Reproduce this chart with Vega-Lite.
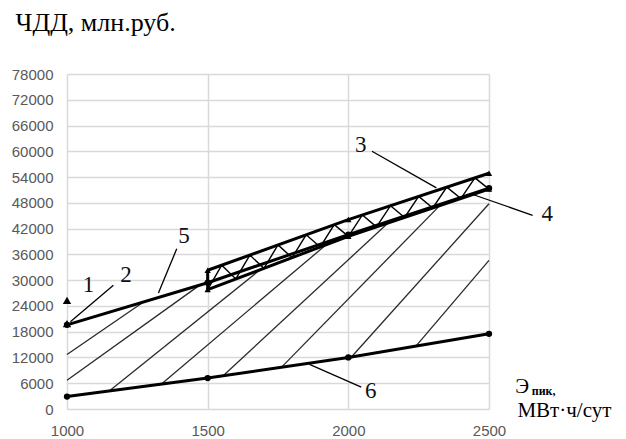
{
  "$schema": "https://vega.github.io/schema/vega-lite/v6.json",
  "width": 422,
  "height": 335,
  "autosize": "none",
  "padding": {"left": 67, "top": 74, "right": 137, "bottom": 30},
  "background": "white",
  "config": {"view": {"stroke": null}},
  "datasets": {
    "series": [
      {"s": "6", "x": 1000, "y": 2900}, {"s": "6", "x": 1500, "y": 7200}, {"s": "6", "x": 2000, "y": 12000}, {"s": "6", "x": 2500, "y": 17500},
      {"s": "5", "x": 1000, "y": 19600}, {"s": "5", "x": 1500, "y": 29400}, {"s": "5", "x": 2000, "y": 40600}, {"s": "5", "x": 2500, "y": 51400},
      {"s": "3", "x": 1500, "y": 32300}, {"s": "3", "x": 2000, "y": 44100}, {"s": "3", "x": 2500, "y": 54900},
      {"s": "4", "x": 1500, "y": 27800}, {"s": "4", "x": 2000, "y": 40200}, {"s": "4", "x": 2500, "y": 51200}
    ],
    "singles": [
      {"p": "1", "x": 1000, "y": 25300},
      {"p": "2", "x": 1000, "y": 19900}
    ],
    "hatch": [
      {"x": 1000, "y": 12700, "x2": 1272, "y2": 24900},
      {"x": 1000, "y": 6700, "x2": 1473, "y2": 28900},
      {"x": 1148, "y": 4100, "x2": 1686, "y2": 32400},
      {"x": 1337, "y": 5900, "x2": 1922, "y2": 38300},
      {"x": 1556, "y": 7800, "x2": 2141, "y2": 43300},
      {"x": 1762, "y": 9700, "x2": 2324, "y2": 47300},
      {"x": 2011, "y": 12100, "x2": 2500, "y2": 47800},
      {"x": 2241, "y": 14700, "x2": 2500, "y2": 34600}
    ],
    "lattice": [
      {"x": 1500, "y": 27800}, {"x": 1550, "y": 33480}, {"x": 1600, "y": 30280}, {"x": 1650, "y": 35840},
      {"x": 1700, "y": 32760}, {"x": 1750, "y": 38200}, {"x": 1800, "y": 35240}, {"x": 1850, "y": 40560},
      {"x": 1900, "y": 37720}, {"x": 1950, "y": 42920}, {"x": 2000, "y": 40200}, {"x": 2050, "y": 45180},
      {"x": 2100, "y": 42400}, {"x": 2150, "y": 47340}, {"x": 2200, "y": 44600}, {"x": 2250, "y": 49500},
      {"x": 2300, "y": 46800}, {"x": 2350, "y": 51660}, {"x": 2400, "y": 49000}, {"x": 2450, "y": 53820},
      {"x": 2500, "y": 51200}
    ],
    "bandend": [
      {"x": 1500, "y": 27800, "y2": 32300}
    ],
    "leaders": [
      {"x": 1165, "y": 28800, "x2": 1012, "y2": 20300},
      {"x": 1390, "y": 37300, "x2": 1325, "y2": 27000},
      {"x": 2084, "y": 60000, "x2": 2313, "y2": 51500},
      {"x": 2440, "y": 50000, "x2": 2655, "y2": 45100},
      {"x": 1862, "y": 10400, "x2": 2046, "y2": 5100}
    ],
    "labels": [
      {"t": "1", "x": 1076, "y": 28800},
      {"t": "2", "x": 1210, "y": 31100},
      {"t": "5", "x": 1416, "y": 40200},
      {"t": "3", "x": 2044, "y": 61400},
      {"t": "4", "x": 2707, "y": 45300},
      {"t": "6", "x": 2080, "y": 4100}
    ],
    "xtitle": [
      {"t": "Э", "x": 2593, "y": 3650},
      {"t": "МВт·ч/сут", "x": 2601, "y": -1800}
    ],
    "xsub": [
      {"t": "пик,", "x": 2652, "y": 3250}
    ]
  },
  "layer": [
    {
      "data": {"name": "hatch"},
      "mark": {"type": "rule", "color": "#2a2a2a", "strokeWidth": 1.3},
      "encoding": {
        "x": {
          "field": "x", "type": "quantitative",
          "scale": {"domain": [1000, 2500], "nice": false, "zero": false},
          "axis": {
            "values": [1000, 1500, 2000, 2500], "tickCount": 4, "title": null, "grid": true,
            "gridColor": "#d9d9d9", "gridWidth": 1.5, "domain": false, "ticks": false,
            "labelPadding": 14, "labelFont": "Liberation Sans", "labelFontSize": 15,
            "labelColor": "#595959", "labelFlush": false, "labelOverlap": false, "format": "d"
          }
        },
        "y": {
          "field": "y", "type": "quantitative",
          "scale": {"domain": [0, 78000], "nice": false, "zero": false},
          "axis": {
            "values": [0, 6000, 12000, 18000, 24000, 30000, 36000, 42000, 48000, 54000, 60000, 66000, 72000, 78000],
            "tickCount": 14,
            "title": "ЧДД, млн.руб.", "titleAngle": 0, "titleAlign": "left", "titleBaseline": "alphabetic",
            "titleX": -52, "titleY": -44, "titleFont": "Liberation Serif", "titleFontSize": 26,
            "titleFontWeight": "normal", "titleColor": "#000000",
            "grid": true, "gridColor": "#d9d9d9", "gridWidth": 1.5, "domain": false, "ticks": false,
            "labelPadding": 14, "labelFont": "Liberation Sans", "labelFontSize": 15,
            "labelColor": "#595959", "labelFlush": false, "labelOverlap": false, "format": "d"
          }
        },
        "x2": {"field": "x2"},
        "y2": {"field": "y2"}
      }
    },
    {
      "data": {"name": "lattice"},
      "mark": {"type": "line", "color": "#000000", "strokeWidth": 1.4},
      "encoding": {
        "x": {"field": "x", "type": "quantitative"},
        "y": {"field": "y", "type": "quantitative"}
      }
    },
    {
      "data": {"name": "bandend"},
      "mark": {"type": "rule", "color": "#000000", "strokeWidth": 3},
      "encoding": {
        "x": {"field": "x", "type": "quantitative"},
        "y": {"field": "y", "type": "quantitative"},
        "y2": {"field": "y2"}
      }
    },
    {
      "data": {"name": "series"},
      "mark": {"type": "line", "color": "#000000", "strokeWidth": 3},
      "encoding": {
        "x": {"field": "x", "type": "quantitative"},
        "y": {"field": "y", "type": "quantitative"},
        "detail": {"field": "s"}
      }
    },
    {
      "data": {"name": "series"},
      "mark": {"type": "point", "filled": true, "color": "#000000", "opacity": 1, "size": 40},
      "encoding": {
        "x": {"field": "x", "type": "quantitative"},
        "y": {"field": "y", "type": "quantitative"},
        "shape": {
          "field": "s", "type": "nominal", "legend": null,
          "scale": {"domain": ["3", "4", "5", "6"], "range": ["triangle-up", "triangle-up", "circle", "circle"]}
        }
      }
    },
    {
      "data": {"name": "singles"},
      "mark": {"type": "point", "filled": true, "color": "#000000", "opacity": 1, "size": 70},
      "encoding": {
        "x": {"field": "x", "type": "quantitative"},
        "y": {"field": "y", "type": "quantitative"},
        "shape": {
          "field": "p", "type": "nominal", "legend": null,
          "scale": {"domain": ["1", "2"], "range": ["triangle-up", "circle"]}
        }
      }
    },
    {
      "data": {"name": "leaders"},
      "mark": {"type": "rule", "color": "#000000", "strokeWidth": 1.3},
      "encoding": {
        "x": {"field": "x", "type": "quantitative"},
        "y": {"field": "y", "type": "quantitative"},
        "x2": {"field": "x2"},
        "y2": {"field": "y2"}
      }
    },
    {
      "data": {"name": "labels"},
      "mark": {"type": "text", "font": "Liberation Serif", "fontSize": 23, "color": "#111111", "align": "center", "baseline": "middle"},
      "encoding": {
        "x": {"field": "x", "type": "quantitative"},
        "y": {"field": "y", "type": "quantitative"},
        "text": {"field": "t"}
      }
    },
    {
      "data": {"name": "xtitle"},
      "mark": {"type": "text", "font": "Liberation Serif", "fontSize": 21, "color": "#000000", "align": "left", "baseline": "alphabetic"},
      "encoding": {
        "x": {"field": "x", "type": "quantitative"},
        "y": {"field": "y", "type": "quantitative"},
        "text": {"field": "t"}
      }
    },
    {
      "data": {"name": "xsub"},
      "mark": {"type": "text", "font": "Liberation Serif", "fontSize": 12, "fontWeight": "bold", "color": "#000000", "align": "left", "baseline": "alphabetic"},
      "encoding": {
        "x": {"field": "x", "type": "quantitative"},
        "y": {"field": "y", "type": "quantitative"},
        "text": {"field": "t"}
      }
    }
  ]
}
